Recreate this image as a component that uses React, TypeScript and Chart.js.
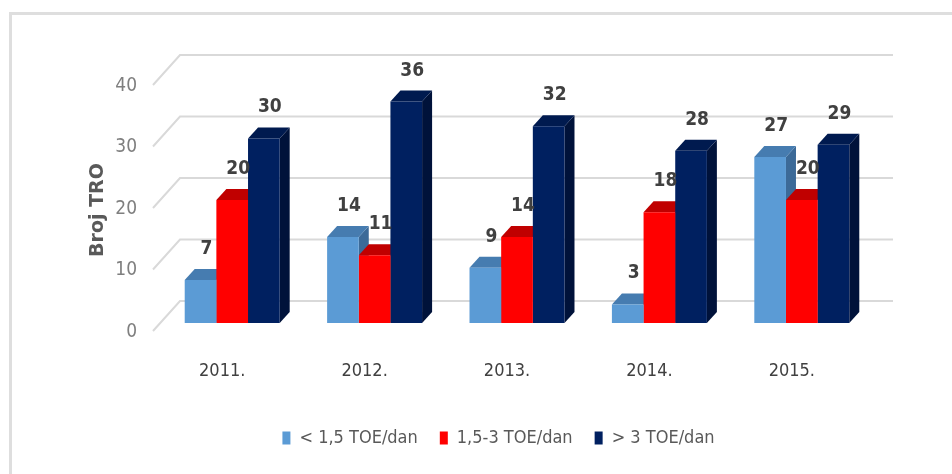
import React, { useEffect, useRef } from "react";
import { Chart, registerables } from "chart.js";

Chart.register(...registerables);

const categories = ["2011.", "2012.", "2013.", "2014.", "2015."];
const seriesNames = ["< 1,5 TOE/dan", "1,5-3 TOE/dan", "> 3 TOE/dan"];
const lowValues = [7, 14, 9, 3, 27];
const midValues = [20, 11, 14, 18, 20];
const highValues = [30, 36, 32, 28, 29];
const yTicks = [0, 10, 20, 30, 40];
const yTitle = "Broj TRO";

const frontColors = ["#5b9bd5", "#ff0000", "#002060"];
const topColors = ["#467cb0", "#c00000", "#001a4f"];
const sideColors = ["#3c6a98", "#a50000", "#00123a"];

const NARROW = '"Liberation Sans Narrow", "DejaVu Sans Condensed", sans-serif';
const DX = 10;
const DY = -11;

const threeD = {
  id: "threeD",
  afterLayout(chart: any) {
    if (chart.legend) {
      chart.legend.left += 57;
      chart.legend.right += 57;
    }
  },
  beforeDatasetsDraw(chart: any) {
    const ctx = chart.ctx;
    const { left, right } = chart.chartArea;
    const yScale = chart.scales.y;
    ctx.save();
    ctx.strokeStyle = "#d9d9d9";
    ctx.lineWidth = 2;
    yTicks.forEach((v) => {
      const y = yScale.getPixelForValue(v);
      ctx.beginPath();
      ctx.moveTo(left - 8, y + 8);
      ctx.lineTo(left + 19, y - 22);
      ctx.lineTo(right + 20, y - 22);
      ctx.stroke();
    });
    const metas = chart.data.datasets.map((_: any, d: number) => chart.getDatasetMeta(d));
    categories.forEach((_, i) => {
      metas.forEach((meta: any, d: number) => {
        const el = meta.data[i];
        if (!el) return;
        const { x, y, base, width } = el.getProps(["x", "y", "base", "width"], true);
        const x0 = x - width / 2;
        const x1 = x + width / 2;
        ctx.fillStyle = sideColors[d];
        ctx.beginPath();
        ctx.moveTo(x1, y);
        ctx.lineTo(x1 + DX, y + DY);
        ctx.lineTo(x1 + DX, base + DY);
        ctx.lineTo(x1, base);
        ctx.closePath();
        ctx.fill();
        ctx.fillStyle = topColors[d];
        ctx.beginPath();
        ctx.moveTo(x0, y);
        ctx.lineTo(x1, y);
        ctx.lineTo(x1 + DX, y + DY);
        ctx.lineTo(x0 + DX, y + DY);
        ctx.closePath();
        ctx.fill();
      });
    });
    ctx.restore();
  },
  afterDatasetsDraw(chart: any) {
    const ctx = chart.ctx;
    ctx.save();
    ctx.fillStyle = "#404040";
    ctx.font = "bold 19px " + NARROW;
    ctx.textAlign = "center";
    ctx.textBaseline = "middle";
    chart.data.datasets.forEach((ds: any, d: number) => {
      const meta = chart.getDatasetMeta(d);
      meta.data.forEach((el: any, i: number) => {
        ctx.fillText(String(ds.data[i]), el.x + 6, el.y - 31);
      });
    });
    ctx.restore();
  },
  afterDraw(chart: any) {
    const ctx = chart.ctx;
    ctx.save();
    ctx.translate(98, 210);
    ctx.rotate(-Math.PI / 2);
    ctx.fillStyle = "#595959";
    ctx.font = 'bold 19px "DejaVu Sans", sans-serif';
    ctx.textAlign = "center";
    ctx.textBaseline = "middle";
    ctx.fillText(yTitle, 0, 0);
    ctx.restore();
  },
};

export default function App() {
  const ref = useRef<HTMLCanvasElement>(null);
  useEffect(() => {
    document.body.style.margin = "0";
    const chart = new Chart(ref.current as HTMLCanvasElement, {
      type: "bar",
      data: {
        labels: categories,
        datasets: [
          { label: seriesNames[0], data: lowValues, backgroundColor: frontColors[0], borderWidth: 0 },
          { label: seriesNames[1], data: midValues, backgroundColor: frontColors[1], borderWidth: 0 },
          { label: seriesNames[2], data: highValues, backgroundColor: frontColors[2], borderWidth: 0 },
        ],
      },
      options: {
        responsive: false,
        animation: false,
        datasets: { bar: { categoryPercentage: 0.667, barPercentage: 1.0 } },
        layout: { padding: { left: 10, right: 79, top: 77, bottom: 17 } },
        plugins: {
          legend: {
            position: "bottom",
            labels: {
              boxWidth: 8,
              boxHeight: 13,
              color: "#595959",
              font: { family: NARROW, size: 18 },
              padding: 22,
            },
          },
          tooltip: { enabled: false },
        },
        scales: {
          x: {
            grid: { display: false, drawTicks: false },
            border: { display: false },
            ticks: {
              color: "#404040",
              font: { family: NARROW, size: 18 },
              padding: 38,
              labelOffset: -10,
            },
            afterFit: (s: any) => {
              s.height = 84;
            },
          },
          y: {
            min: 0,
            max: 40,
            grid: { display: false, drawTicks: false },
            border: { display: false },
            afterBuildTicks: (s: any) => {
              s.ticks = yTicks.map((v) => ({ value: v }));
            },
            ticks: {
              color: "#7f7f7f",
              font: { family: NARROW, size: 19 },
              padding: 24,
              labelOffset: 9,
            },
            afterFit: (s: any) => {
              s.width = 151;
            },
          },
        },
      },
      plugins: [threeD],
    } as any);
    return () => chart.destroy();
  }, []);
  return (
    <div style={{ position: "relative", width: 952, height: 474, background: "#fff", overflow: "hidden" }}>
      <div
        style={{
          position: "absolute",
          left: 9,
          top: 12,
          width: 1000,
          height: 600,
          borderTop: "3px solid #dedede",
          borderLeft: "3px solid #dedede",
        }}
      />
      <canvas ref={ref} width={952} height={474} style={{ position: "absolute", left: 0, top: 0, display: "block" }} />
    </div>
  );
}
